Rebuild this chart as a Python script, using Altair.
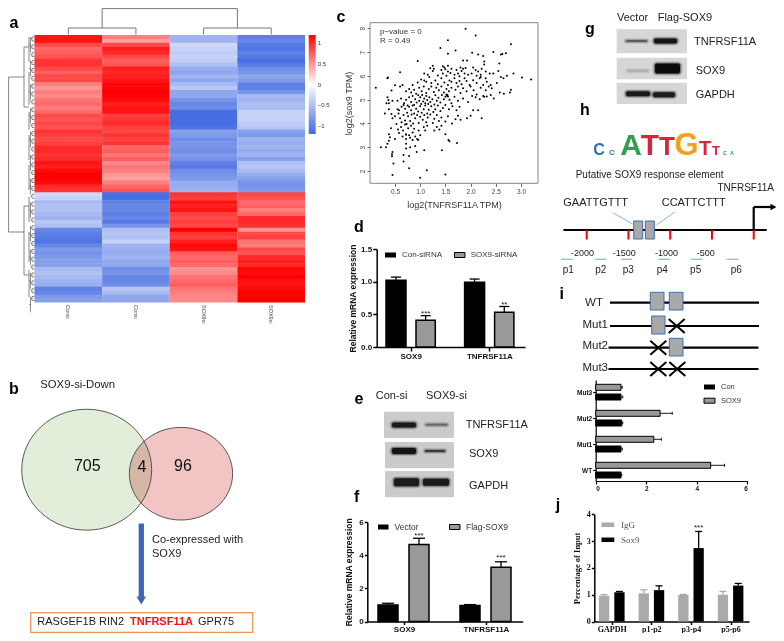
import json
import altair as alt
import pandas as pd

W, H = 768, 625
FONT = "Liberation Sans"
SERIF = "Liberation Serif"
PX = alt.Scale(domain=[0, 784], range=[-8, 776], nice=False, zero=False)
PY = alt.Scale(domain=[0, 641], range=[-8, 633], nice=False, zero=False)

# ---------- a: heatmap ----------
sample_labels = ["Consi", "Consi", "SOX9si", "SOX9si"]
heat_c1 = [1.1,1.1,.85,.7,.75,.8,.95,.95,.85,.75,.85,.85,.6,.5,.6,.55,.65,.7,.6,.7,.85,.8,.85,.8,.95,.9,.85,.9,1.0,1.0,.95,1.0,1.1,1.05,1.15,1.19,1.19,1.15,1.0,.95,
           -.3,-.35,-.55,-.5,-.5,-.55,-.6,-.45,-.5,-.95,-1.0,-1.05,-1.1,-.95,-.8,-.85,-.8,-.75,-.75,-.55,-.5,-.55,-.6,-.65,-1.0,-.95,-.8,-.75]
heat_c2 = [.6,.45,.85,1.05,1.0,.85,.75,.8,1.05,1.0,1.05,1.1,1.17,1.17,1.19,1.17,1.15,1.05,1.1,1.1,.9,.95,1.0,.9,.85,.95,.9,.95,.7,.75,.65,.75,.55,.65,.6,.5,.45,.6,.7,.8,
           -1.15,-1.15,-1.0,-.95,-.95,-1.0,-.95,-1.05,-.85,-.5,-.45,-.5,-.35,-.6,-.65,-.65,-.6,-.7,-.7,-.9,-.85,-.95,-.95,-.9,-.45,-.55,-.7,-.7]
heat_c3 = [-.6,-.6,-.3,-.35,-.4,-.35,-.4,-.5,-.65,-.7,-.6,-.7,-.55,-.45,-.7,-.7,-.85,-.95,-.9,-1.15,-1.15,-1.15,-1.15,-1.1,-.75,-.8,-.9,-.85,-.85,-.9,-.8,-.85,-1.0,-1.05,-.9,-.85,-.8,-.65,-.65,-.6,
           .95,.9,1.1,1.05,1.1,.9,.85,.9,.85,1.19,.95,.9,1.05,1.15,1.1,.75,.7,.75,.7,.5,.55,.65,.7,.75,.65,.6,.55,.55]
heat_c4 = [-1.0,-.95,-1.05,-1.1,-1.0,-1.05,-1.15,-1.05,-.9,-.85,-.7,-.8,-1.0,-1.0,-.85,-.55,-.6,-.5,-.55,-.35,-.35,-.35,-.4,-.45,-.75,-.8,-.6,-.65,-.6,-.65,-.6,-.75,-.5,-.45,-.55,-.65,-.75,-.85,-.85,-.8,
           .85,.8,.7,.75,.6,.7,1.0,1.0,.95,.5,.85,.9,.65,.6,.85,.8,1.0,1.05,1.0,1.15,1.15,1.19,1.1,1.1,1.15,1.19,1.19,1.19]

# ---------- c: scatter (x = log2 TNFRSF11A, y = log2 SOX9) ----------
scatter_pts = [
 (1.9,7.98),(2.1,7.7),(1.55,7.5),(2.8,7.33),(1.4,7.17),(1.7,7.07),(1.55,6.93),(2.03,6.97),(2.15,6.9),(2.25,6.83),(2.45,7.0),(2.6,6.9),(2.63,6.92),(2.7,6.95),(.95,6.62),(1.85,6.65),(1.93,6.65),(2.27,6.6),(2.27,6.48),(2.57,6.52),(.6,6.15),(1.25,6.43),(1.55,6.43),(1.45,6.4),(1.48,6.35),
 (3.2,5.85),(3.02,5.93),(2.85,6.1),(2.72,6.0),(2.6,5.95),(2.65,5.9),(2.55,6.2),(2.45,6.1),(.12,5.5),(.35,5.9),(.36,5.93),(.5,5.6),(.6,5.55),(.65,5.62),(.43,5.38),(.35,5.1),(.37,4.98),(.45,4.95),(.33,4.85),(.38,4.85),(.3,4.42),(.38,4.6),(.43,4.4),(.45,4.22),(.5,4.3),(.55,4.6),(.57,4.42),(.38,3.55),(.42,3.8),(.4,3.42),(.38,3.27),(.35,3.15),(.32,3.0),(.22,3.0),(.45,2.8),(.44,2.7),(.44,2.62),(.47,2.32),(.45,1.83),(.67,2.67),(.67,2.4),(.78,2.63),(.78,2.12),(1.0,1.72),(1.13,2.03),(1.5,1.85),(1.08,2.87),(1.43,2.87),(.72,2.95),(.72,3.15),(.8,3.0),(.9,3.05),(.93,2.8),
 (1.2,6.32),(1.27,6.3),(1.42,6.25),(1.5,6.28),(1.55,6.18),(1.62,6.3),(1.72,6.25),(1.8,6.35),(1.85,6.3),(1.9,6.33),(1.82,6.2),(2.05,6.35),(2.1,6.25),(2.15,6.18),(2.22,6.3),(2.3,6.18),(1.08,6.1),(1.15,6.05),(1.25,6.2),(1.35,6.02),(1.45,6.1),(1.52,6.0),(1.6,6.12),(1.68,6.05),(1.75,6.1),(1.78,5.98),(1.88,6.1),(1.95,6.05),(2.02,6.1),(2.12,6.0),(2.2,5.95),(2.3,5.9),(2.38,6.1),(2.2,6.05),
 (.85,5.62),(.95,5.72),(1.02,5.85),(1.08,5.8),(1.12,5.75),(1.18,5.95),(1.22,5.7),(1.3,5.8),(1.35,5.65),(1.42,5.9),(1.48,5.72),(1.55,5.62),(1.58,5.8),(1.62,5.75),(1.68,5.9),(1.72,5.7),(1.78,5.78),(1.82,5.65),(1.88,5.9),(1.92,5.78),(1.98,5.62),(2.05,5.82),(2.12,5.7),(2.18,5.9),(2.25,5.62),(2.32,5.75),(2.4,5.62),(.78,5.45),(.72,5.35),(.82,5.3),(.88,5.42),(.92,5.25),(.98,5.5),(1.03,5.35),(1.07,5.55),(1.12,5.28),(1.17,5.45),(1.22,5.55),(1.27,5.32),(1.32,5.5),(1.37,5.4),(1.42,5.55),(1.47,5.3),(1.52,5.45),(1.57,5.35),(1.62,5.5),(1.7,5.42),(1.75,5.55),(1.8,5.28),(1.85,5.48),(1.92,5.35),(2.0,5.55),(2.06,5.4),(2.12,5.22),(2.2,5.5),(2.25,5.15),(2.3,5.4),(2.36,5.55),(2.42,5.48),(2.4,5.2),(2.46,5.05),(2.58,5.3),(2.66,5.25),(2.78,5.3),(2.8,5.42),(2.52,5.7),
 (.55,4.95),(.62,5.05),(.68,4.85),(.72,5.0),(.75,4.75),(.78,5.1),(.82,4.9),(.85,5.15),(.88,4.78),(.9,5.02),(.93,4.88),(.96,5.18),(.98,4.95),(1.0,5.1),(1.02,4.82),(1.04,5.2),(1.06,4.92),(1.08,5.05),(1.1,4.85),(1.12,5.15),(1.14,4.98),(1.16,4.82),(1.18,5.1),(1.2,4.9),(1.24,5.02),(1.28,4.8),(1.3,5.18),(1.33,4.95),(1.36,5.08),(1.4,4.88),(1.43,5.2),(1.47,5.02),(1.5,5.12),(1.53,5.17),(1.54,5.2),(1.55,5.13),(1.52,5.22),(1.58,5.0),(1.62,4.85),(1.68,5.12),(1.75,4.95),(1.85,5.05),(1.95,4.9),(2.03,5.15),(2.1,5.1),(2.18,5.02),(2.27,5.12),(2.32,5.13),(.58,4.55),(.63,4.7),(.67,4.78),(.7,4.62),(.74,4.45),(.78,4.7),(.82,4.55),(.85,4.75),(.88,4.42),(.92,4.62),(.96,4.5),(1.0,4.72),(1.03,4.45),(1.07,4.6),(1.1,4.75),(1.14,4.42),(1.17,4.58),(1.22,4.72),(1.26,4.48),(1.3,4.6),(1.35,4.75),(1.4,4.52),(1.45,4.65),(1.5,4.78),(1.57,4.6),(1.64,4.72),(1.72,4.55),(1.78,4.7),(1.93,4.22),(2.0,4.32),(2.05,4.55),(2.15,4.55),(2.22,4.22),
 (.6,4.22),(.63,4.05),(.67,4.35),(.7,4.12),(.73,3.98),(.76,4.3),(.8,4.1),(.83,4.38),(.86,4.0),(.9,4.22),(.94,4.35),(.97,4.02),(1.0,4.28),(1.05,4.15),(1.08,4.35),(1.12,4.05),(1.15,4.25),(1.2,4.38),(1.25,4.02),(1.28,4.2),(1.33,4.35),(1.37,4.1),(1.42,4.25),(1.5,4.08),(1.55,4.3),(1.63,4.0),(1.7,4.18),(1.75,4.32),(1.8,4.15),
 (.53,3.98),(.56,3.75),(.58,3.6),(.62,3.85),(.66,3.7),(.7,3.95),(.72,3.55),(.76,3.8),(.78,3.5),(.82,3.9),(.85,3.62),(.88,3.78),(.9,3.45),(.94,3.35),(.97,3.7),(1.0,3.5),(1.07,3.85),(1.1,3.7),(1.14,3.9),(1.28,3.7),(1.33,3.85),(1.38,3.75),(1.42,3.9),(1.5,3.55),(1.56,3.3),(1.58,3.25),(1.73,3.18),(.72,3.35),(.8,3.4),(.85,3.3),(.96,3.3),(.5,3.35),(.72,3.52),(.65,3.45),
]
scatter_x = [p[0] for p in scatter_pts]
scatter_y = [p[1] for p in scatter_pts]

# ---------- bar panels ----------
d_cats = ["SOX9", "TNFRSF11A"]
d_con, d_con_hi = [1.02, .99], [1.07, 1.04]
d_si, d_si_hi = [.41, .53], [.48, .62]
f_cats = ["SOX9", "TNFRSF11A"]
f_vec, f_vec_hi = [1.0, .97], [1.1, 1.02]
f_flag, f_flag_hi = [4.65, 3.27], [5.02, 3.6]
i_cats = ["WT", "Mut1", "Mut2", "Mut3"]
i_con, i_con_hi = [1.0, 1.0, 1.03, 1.0], [1.03, 1.05, 1.07, 1.07]
i_sox, i_sox_hi = [4.55, 2.3, 2.55, 1.0], [5.1, 2.6, 3.03, 1.05]
j_cats = ["GAPDH", "p1-p2", "p3-p4", "p5-p6"]
j_igg, j_igg_hi = [.96, 1.05, .99, 1.0], [1.0, 1.18, 1.01, 1.12]
j_sox, j_sox_hi = [1.09, 1.17, 2.74, 1.34], [1.12, 1.33, 3.36, 1.42]

layers = []


def T(s, x, y, size=11, weight="normal", align="left", baseline="middle", color="#222", font=FONT, angle=0):
    kw = dict(text=s, fontSize=size, fontWeight=weight, align=align, baseline=baseline, color=color, font=font)
    if angle:
        kw["angle"] = angle
    return alt.Chart(alt.Data(values=[{"a": 1}])).mark_text(**kw).encode(x=alt.value(x - 8), y=alt.value(y - 8))


def S(segs, color="#000", width=1.0, xs=PX, ys=PY):
    df = pd.DataFrame(segs, columns=["x", "y", "x2", "y2"])
    return alt.Chart(df).mark_rule(color=color, strokeWidth=width).encode(
        x=alt.X("x:Q", scale=xs, axis=None), x2="x2:Q", y=alt.Y("y:Q", scale=ys, axis=None), y2="y2:Q")


def R(rows, xs=PX, ys=PY, **mark):
    df = pd.DataFrame(rows, columns=["x", "x2", "y", "y2"])
    return alt.Chart(df).mark_rect(**mark).encode(
        x=alt.X("x:Q", scale=xs, axis=None), x2="x2:Q", y=alt.Y("y:Q", scale=ys, axis=None), y2="y2:Q")


def P(x, y, xs=PX, ys=PY, **mark):
    return alt.Chart(pd.DataFrame({"x": [x], "y": [y]})).mark_point(**mark).encode(
        x=alt.X("x:Q", scale=xs, axis=None), y=alt.Y("y:Q", scale=ys, axis=None))


def bar_panel(cats, series, c0, pitch, cat_span, val_span, val_domain, ticks, fmt, horizontal=False,
              title=None, title_pad=4, font=FONT, lab=8, cap=5, err_w=1.3, stars=(), star_size=8, tick_len=4, dom_w=1.5, title_size=8.5):
    cat_dom = [(cat_span[0] - c0) / pitch + .5, (cat_span[1] - c0) / pitch + .5]
    cs = alt.Scale(domain=cat_dom, range=[cat_span[0] - 8, cat_span[1] - 8], nice=False, zero=False)
    vs = alt.Scale(domain=val_domain, range=[val_span[0] - 8, val_span[1] - 8], nice=False, zero=False)
    ap = abs(pitch)
    rb, re, rc = [], [], []
    for s in series:
        for i, c in enumerate(cats):
            a = i + .5 + s["o0"] / pitch
            a2 = i + .5 + s["o1"] / pitch
            m = (a + a2) / 2
            rb.append(dict(a=a, a2=a2, v0=0, v=s["v"][i], f=s["fill"], st=s["stroke"]))
            re.append(dict(a=m, a2=m, v0=s["v"][i], v=s["hi"][i], c=s["err"]))
            rc.append(dict(a=m - cap / ap, a2=m + cap / ap, v=s["hi"][i], c=s["err"]))
    catax = dict(values=[i + .5 for i in range(len(cats))], labelExpr=json.dumps(cats) + "[floor(datum.value)]",
                 title=None, grid=False, labelFont=font, labelFontWeight="bold", labelFontSize=lab, labelColor="#111",
                 tickColor="#000", tickWidth=dom_w, domainColor="#000", domainWidth=dom_w, tickSize=tick_len,
                 labelPadding=1, labelOverlap=False, labelFlush=False)
    valax = dict(values=ticks, format=fmt, title=title, grid=False, labelFont=font, labelFontWeight="bold", labelFontSize=lab,
                 labelColor="#111", tickColor="#000", tickWidth=dom_w, domainColor="#000", domainWidth=dom_w, tickSize=tick_len,
                 titleFont=font, titleFontSize=title_size, titleFontWeight="bold", titleColor="#111", titlePadding=title_pad,
                 labelPadding=1, labelOverlap=False)
    if horizontal:
        cax = alt.Axis(orient="left", offset=-(val_span[0] - 8), **catax)
        vax = alt.Axis(orient="bottom", offset=(cat_span[0] - 8) - H, **valax)
        pos = dict(x=alt.X("v0:Q", scale=vs, axis=vax), x2="v:Q", y=alt.Y("a:Q", scale=cs, axis=cax), y2="a2:Q")
        poss = dict(x=alt.X("v0:Q", scale=vs, axis=None), x2="v:Q", y=alt.Y("a:Q", scale=cs, axis=None))
        posc = dict(x=alt.X("v:Q", scale=vs, axis=None), y=alt.Y("a:Q", scale=cs, axis=None), y2="a2:Q")
    else:
        cax = alt.Axis(orient="bottom", offset=(val_span[0] - 8) - H, **catax)
        vax = alt.Axis(orient="left", offset=-(cat_span[0] - 8), **valax)
        pos = dict(x=alt.X("a:Q", scale=cs, axis=cax), x2="a2:Q", y=alt.Y("v0:Q", scale=vs, axis=vax), y2="v:Q")
        poss = dict(x=alt.X("a:Q", scale=cs, axis=None), y=alt.Y("v0:Q", scale=vs, axis=None), y2="v:Q")
        posc = dict(x=alt.X("a:Q", scale=cs, axis=None), x2="a2:Q", y=alt.Y("v:Q", scale=vs, axis=None))
    out = []
    ecol = alt.Color("c:N", scale=None)
    out.append(alt.Chart(pd.DataFrame(re)).mark_rule(strokeWidth=err_w).encode(color=ecol, **poss))
    out.append(alt.Chart(pd.DataFrame(rc)).mark_rule(strokeWidth=err_w).encode(color=ecol, **posc))
    out.append(alt.Chart(pd.DataFrame(rb)).mark_rect(strokeWidth=series[0].get("sw", 1.5)).encode(
        fill=alt.Fill("f:N", scale=None), stroke=alt.Stroke("st:N", scale=None), **pos))
    if stars:
        df = pd.DataFrame([dict(a=g + .5 + o / pitch, v=v, s=s) for g, o, v, s in stars])
        out.append(alt.Chart(df).mark_text(fontSize=star_size, font=FONT, color="#111", baseline="middle").encode(
            x=alt.X("a:Q", scale=cs, axis=None), y=alt.Y("v:Q", scale=vs, axis=None), text="s:N"))
    return out


# ---------- a ----------
hx = alt.Scale(domain=[0, 4], range=[34.5 - 8, 305 - 8], nice=False, zero=False)
hy = alt.Scale(domain=[0, 68], range=[35 - 8, 302.5 - 8], nice=False, zero=False)
cols = [heat_c1, heat_c2, heat_c3, heat_c4]
heat_rows = [dict(c=c, c2=c + 1, r=r, r2=min(r + 1.15, 68), v=v) for c, col in enumerate(cols) for r, v in enumerate(col)]
layers.append(alt.Chart(pd.DataFrame(heat_rows)).mark_rect().encode(
    x=alt.X("c:Q", scale=hx, axis=None), x2="c2:Q", y=alt.Y("r:Q", scale=hy, axis=None), y2="r2:Q",
    color=alt.Color("v:Q", scale=alt.Scale(domain=[-1.19, 0, 1.19], range=["#4169e1", "#ffffff", "#ff0000"], interpolate="rgb"),
                    legend=alt.Legend(orient="none", legendX=308.7 - 8, legendY=35 - 8, title=None, gradientLength=99,
                                      gradientThickness=7, values=[-1, -.5, 0, .5, 1], labelFontSize=6, labelColor="#333",
                                      labelFont=FONT, labelOffset=2, tickCount=5, format="g"))))
# dendrograms
top_tree = [(.5, 28, 1.5, 28), (2.5, 28, 3.5, 28), (.5, 28, .5, 34.5), (1.5, 28, 1.5, 34.5), (2.5, 28, 2.5, 34.5), (3.5, 28, 3.5, 34.5),
            (1, 8.6, 3, 8.6), (1, 8.6, 1, 28), (3, 8.6, 3, 28)]
layers.append(S(top_tree, "#777", 1, xs=hx))
left_tree = [(8.6, 77, 8.6, 232), (8.6, 77, 24, 77), (8.6, 232, 24, 232), (24, 47, 24, 107), (24, 206, 24, 275),
             (24, 47, 29, 47), (24, 107, 29, 107), (24, 206, 29, 206), (24, 275, 29, 275),
             (29, 37, 29, 62), (29, 72, 29, 105), (29, 112, 29, 130), (29, 135, 29, 160), (29, 165, 29, 190),
             (29, 197, 29, 222), (29, 232, 29, 262), (29, 270, 29, 297)]
layers.append(S(left_tree, "#777", .9))
leaf = []
step = (302.5 - 35) / 68
for r in range(68):
    y = 35 + step * (r + .5)
    leaf.append((32, y, 34.5, y))
    if r % 2 == 0 and r < 67:
        leaf.append((32, y, 32, y + step))
        leaf.append((30.5, y + step / 2, 32, y + step / 2))
    if r % 6 == 0:
        leaf.append((30.5, y, 30.5, y + step * 4))
        leaf.append((29, y + step * 2, 30.5, y + step * 2))
layers.append(S(leaf, "#444", .6))
lab_df = pd.DataFrame({"c": [.5, 1.5, 2.5, 3.5], "s": sample_labels})
layers.append(alt.Chart(lab_df).mark_text(angle=90, fontSize=5.5, font=FONT, color="#444", align="left", baseline="middle").encode(
    x=alt.X("c:Q", scale=hx, axis=None), y=alt.value(305 - 8), text="s:N"))

# ---------- c ----------
cx = alt.Scale(domain=[.004, 3.337], range=[370 - 8, 538 - 8], nice=False, zero=False)
cy = alt.Scale(domain=[1.483, 8.235], range=[183.3 - 8, 22.7 - 8], nice=False, zero=False)
axc = dict(grid=False, domain=False, tickColor="#666", tickSize=3, labelFont=FONT, labelFontSize=6.5, labelColor="#444",
           titleFont=FONT, titleFontSize=9, titleFontWeight="normal", titleColor="#333", labelOverlap=False)
layers.append(alt.Chart(pd.DataFrame({"x": scatter_x, "y": scatter_y})).mark_point(filled=True, color="#000", size=4, opacity=1).encode(
    x=alt.X("x:Q", scale=cx, axis=alt.Axis(orient="bottom", offset=183.3 - 8 - H, values=[.5, 1, 1.5, 2, 2.5, 3], format=".1f",
                                           title="log2(TNFRSF11A TPM)", titlePadding=6, **axc)),
    y=alt.Y("y:Q", scale=cy, axis=alt.Axis(orient="left", offset=-(370 - 8), values=[2, 3, 4, 5, 6, 7, 8], format="d", labelAngle=-90,
                                           labelAlign="center", labelBaseline="bottom",
                                           title="log2(sox9 TPM)", titlePadding=6, **axc))))
layers.append(R([(.004, 3.337, 1.483, 8.235)], xs=cx, ys=cy, fillOpacity=0, stroke="#888", strokeWidth=1))
layers.append(T("p\u2212value = 0", 380, 31.7, 8, color="#333"))
layers.append(T("R = 0.49", 380, 41, 8, color="#333"))

# ---------- d ----------
layers += bar_panel(d_cats,
    [dict(v=d_con, hi=d_con_hi, fill="#000", stroke="#000", err="#000", o0=-24.7, o1=-4.7),
     dict(v=d_si, hi=d_si_hi, fill="#999", stroke="#000", err="#000", o0=5.3, o1=24.6)],
    410.7, 78.6, (376.7, 525), (347, 249), [0, 1.5], [0, .5, 1, 1.5], ".1f",
    title="Relative mRNA expression", title_pad=3, stars=[(0, 15, .51, "***"), (1, 15, .65, "**")])
layers.append(R([(385, 396, 252.5, 257.5)], fill="#000"))
layers.append(R([(454.5, 465, 252.5, 257.5)], fill="#999", stroke="#000", strokeWidth=1))
layers.append(T("Con-siRNA", 402, 255, 8, color="#333"))
layers.append(T("SOX9-siRNA", 470.7, 255, 8, color="#333"))

# ---------- f ----------
layers += bar_panel(f_cats,
    [dict(v=f_vec, hi=f_vec_hi, fill="#000", stroke="#000", err="#000", o0=-26, o1=-6),
     dict(v=f_flag, hi=f_flag_hi, fill="#999", stroke="#000", err="#000", o0=5, o1=25)],
    404, 82, (367.3, 522.7), (621.5, 522), [0, 6], [0, 2, 4, 6], "d",
    title="Relative mRNA expression", title_pad=5, cap=6, tick_len=3, stars=[(0, 15, 5.15, "***"), (1, 15, 3.8, "***")])
layers.append(R([(378, 388.5, 524.5, 529.5)], fill="#000"))
layers.append(R([(449.5, 460, 524.5, 529.5)], fill="#999", stroke="#000", strokeWidth=1))
layers.append(T("Vector", 394.5, 527, 8.5, color="#333"))
layers.append(T("Flag-SOX9", 466, 527, 8.5, color="#333"))

# ---------- i bars ----------
layers += bar_panel(i_cats,
    [dict(v=i_con, hi=i_con_hi, fill="#000", stroke="#000", err="#000", o0=2, o1=8, sw=1),
     dict(v=i_sox, hi=i_sox_hi, fill="#999", stroke="#000", err="#000", o0=-7.7, o1=-1.7, sw=1)],
    470, -26, (481, 380), (595.7, 747.3), [0, 6], [0, 2, 4, 6], "d", horizontal=True, lab=6.5, cap=1.5, err_w=.9, dom_w=1.2, tick_len=3)
layers.append(R([(704, 715, 384.5, 389.5)], fill="#000"))
layers.append(R([(704, 715, 398.2, 403.2)], fill="#999", stroke="#000", strokeWidth=1))
layers.append(T("Con", 721, 387, 7.5, color="#333"))
layers.append(T("SOX9", 721, 400.7, 7.5, color="#333"))

# ---------- j ----------
layers += bar_panel(j_cats,
    [dict(v=j_igg, hi=j_igg_hi, fill="#aaa", stroke="#aaa", err="#aaa", o0=-12.7, o1=-2.4, sw=0),
     dict(v=j_sox, hi=j_sox_hi, fill="#000", stroke="#000", err="#000", o0=2.6, o1=12.9, sw=0)],
    611.7, 39.6, (594.3, 749), (621.5, 514.3), [0, 4], [0, 1, 2, 3, 4], "d", font=SERIF, lab=8,
    title="Percentage of Input", title_pad=5, cap=3.5, stars=[(2, 7.7, 3.48, "***")], tick_len=3)
layers.append(R([(601.5, 614.3, 522.5, 527)], fill="#aaa"))
layers.append(R([(601.5, 614.3, 537.5, 542)], fill="#000"))
layers.append(T("IgG", 621, 524.7, 9, color="#555", font=SERIF))
layers.append(T("Sox9", 621, 539.7, 9, color="#555", font=SERIF))

# ---------- b: Venn ----------
ell_l = "M -1 0 A 1 0.93 0 1 0 1 0 A 1 0.93 0 1 0 -1 0 Z"
ell_r = "M -1 0 A 1 0.897 0 1 0 1 0 A 1 0.897 0 1 0 -1 0 Z"
layers.append(P(86.7, 469.7, shape=ell_l, size=16900, filled=True, color="#e2eed9", opacity=1))
layers.append(P(181, 473.7, shape=ell_r, size=10670, filled=True, color="#f2c4c4", opacity=1, blend="multiply"))
layers.append(P(86.7, 469.7, shape=ell_l, size=16900, filled=False, color="#333", strokeWidth=.8, opacity=1))
layers.append(P(181, 473.7, shape=ell_r, size=10670, filled=False, color="#333", strokeWidth=.8, opacity=1))
layers.append(T("705", 87.3, 466, 16, align="center", color="#111"))
layers.append(T("96", 183, 466, 16, align="center", color="#111"))
layers.append(T("4", 142, 467, 16, align="center", color="#111"))
layers.append(T("SOX9-si-Down", 40.3, 385, 11.3))
layers.append(T("Co-expressed with", 152, 540, 11))
layers.append(T("SOX9", 152, 554, 11))
layers.append(S([(141.3, 523.5, 141.3, 600)], "#3a67b5", 5.3))
layers.append(P(141.3, 600.5, shape="triangle-down", size=90, filled=True, color="#3a67b5", opacity=1))
layers.append(R([(30.7, 252.7, 612.7, 632.3)], fillOpacity=0, stroke="#f0914e", strokeWidth=1.2))
layers.append(T("RASGEF1B RIN2", 37.3, 622.3, 11))
layers.append(T("TNFRSF11A", 130, 622.3, 11, weight="bold", color="#f0141e"))
layers.append(T("GPR75", 198, 622.3, 11))

# ---------- e, g: blots ----------
blot_bg = [(384, 454, 411.7, 438), (385, 454, 442, 468.3), (385, 454, 471, 497.3)]
blot_bg_g = [(616.7, 687, 29.3, 53.3), (616.7, 687, 57.7, 79.3), (616.7, 687, 82.7, 104)]
blot_bands = [(392, 416, 425, 5, "#111"), (425.7, 447.3, 424.7, 2, "#666"),
              (392, 416, 451, 6, "#0a0a0a"), (425, 445, 451, 2, "#333"),
              (394, 419, 482.3, 8, "#111"), (423, 449, 482.3, 7, "#111"),
              (626, 647, 41, 1.5, "#444"), (654, 677, 41, 5, "#0a0a0a"),
              (627, 648, 70.7, 2, "#aaa"), (655, 680, 68.5, 10, "#000"),
              (626, 650, 93.7, 5, "#111"), (653, 675, 94.7, 5, "#111")]
layers.append(R(blot_bg, fill="#cbcbcb"))
layers.append(R(blot_bg_g, fill="#d6d6d6"))
halo2 = [(a - 2.5, b + 2.5, y - h / 2 - 2, y + h / 2 + 2, c) for a, b, y, h, c in blot_bands]
halo = [(a - 1.2, b + 1.2, y - h / 2 - 1, y + h / 2 + 1, c) for a, b, y, h, c in blot_bands]
core = [(a, b, y - h / 2, y + h / 2, c) for a, b, y, h, c in blot_bands]
for rows, op, rad in ((halo2, .15, 4), (halo, .35, 3), (core, .9, 2)):
    df = pd.DataFrame(rows, columns=["x", "x2", "y", "y2", "c"])
    layers.append(alt.Chart(df).mark_rect(opacity=op, cornerRadius=rad).encode(
        x=alt.X("x:Q", scale=PX, axis=None), x2="x2:Q", y=alt.Y("y:Q", scale=PY, axis=None), y2="y2:Q",
        fill=alt.Fill("c:N", scale=None)))
for s, x, y in [("Con-si", 375.7, 395.7), ("SOX9-si", 426, 395.7), ("TNFRSF11A", 465.7, 424.7), ("SOX9", 469, 454), ("GAPDH", 469, 486),
                ("Vector", 617, 18.3), ("Flag-SOX9", 657.7, 18.3), ("TNFRSF11A", 694, 42), ("SOX9", 695.7, 70.7), ("GAPDH", 695.7, 95)]:
    layers.append(T(s, x, y, 11))

# ---------- h: logo ----------
logo = [("C", 599, 16, "#2f6fb5"), ("C", 612, 8, "#2f6fb5"), ("A", 631, 30, "#2e9e4f"), ("T", 650, 30, "#d8243c"), ("T", 667, 26, "#d8243c"),
        ("G", 686.5, 31, "#f0a21e"), ("T", 705, 20, "#d8243c"), ("T", 716, 13, "#d8243c"), ("C", 725, 5, "#2f6fb5"), ("A", 732, 5, "#2e9e4f")]
for ch, x, sz, col in logo:
    layers.append(T(ch, x, 155, sz, weight="bold", align="center", baseline="alphabetic", color=col))
layers.append(T("Putative SOX9 response element", 575.7, 174.7, 10))

# ---------- h: promoter diagram (bp scale) ----------
bx = alt.Scale(domain=[-2000, 0], range=[586.7 - 8, 753.7 - 8], nice=False, zero=False)
promoter_line = [(-2279, 230, 156, 230)]
promoter_ticks = [-2000, -1500, -1000, -500, 0]
promoter_boxes = [(-1437, -1329), (-1297, -1190)]
primers = [(-2307, -2168), (-1900, -1760), (-1593, -1453), (-1142, -1002), (-750, -611), (-323, -184)]
primer_text = [("p1", -2220), ("p2", -1832), ("p3", -1501), ("p4", -1094), ("p5", -695), ("p6", -208)]
tick_text = [("-2000", -2050), ("-1500", -1550), ("-1000", -1045), ("-500", -575)]
layers.append(S(promoter_line, "#000", 2.2, xs=bx))
layers.append(S([(t, 230, t, 239.5) for t in promoter_ticks], "#f00000", 2, xs=bx))
layers.append(R([(a, b, 221, 239) for a, b in promoter_boxes], xs=bx, fill="#a9a9a9", stroke="#3f6fb0", strokeWidth=1))
layers.append(S([(0, 230, 0, 207), (0, 207, 215, 207)], "#000", 2.2, xs=bx))
layers.append(P(235, 207, xs=bx, shape="triangle-right", size=45, filled=True, color="#000", opacity=1))
layers.append(S([(-1680, 213, -1450, 224), (-945, 212, -1165, 225)], "#6f9fd0", .8, xs=bx))
layers.append(S([(a, 259.3, b, 259.3) for a, b in primers], "#8fb0d8", 1.2, xs=bx))
for rows, yp, sz in ((primer_text, 270, 10), (tick_text, 253.3, 9)):
    df = pd.DataFrame(rows, columns=["s", "x"])
    layers.append(alt.Chart(df).mark_text(fontSize=sz, font=FONT, color="#222", baseline="middle").encode(
        x=alt.X("x:Q", scale=bx, axis=None), y=alt.value(yp - 8), text="s:N"))
layers.append(T("GAATTGTTT", 563.3, 203.3, 11))
layers.append(T("CCATTCTTT", 661.7, 203.3, 11))
layers.append(T("TNFRSF11A", 717.5, 188.3, 10))

# ---------- i: constructs ----------
construct_lines = [(610, 302.7, 759, 302.7), (610, 326, 759, 326), (608.5, 347.7, 758.5, 347.7), (608.5, 369, 758.5, 369)]
construct_boxes = [(650.3, 664, 292.3, 310), (669.3, 683, 292.3, 310), (651.7, 665, 316, 334), (669.3, 683, 338.3, 356)]
construct_x = [(676.7, 326), (658.3, 347.7), (658.3, 369), (677.3, 369)]
layers.append(S(construct_lines, "#000", 2.2))
layers.append(R(construct_boxes, fill="#a9a9a9", stroke="#3f6fb0", strokeWidth=1))
xsegs = []
for x, y in construct_x:
    xsegs += [(x - 8, y - 7, x + 8, y + 7), (x - 8, y + 7, x + 8, y - 7)]
layers.append(S(xsegs, "#000", 2))
for s, x, y in [("WT", 603, 303), ("Mut1", 608, 325), ("Mut2", 608, 346), ("Mut3", 608, 368)]:
    layers.append(T(s, x, y, 11.5, align="right"))

# ---------- panel letters ----------
for s, x, y in [("a", 14, 23), ("b", 14, 389), ("c", 341, 17), ("d", 359, 227), ("e", 359, 399), ("f", 356.7, 497),
                ("g", 590, 29), ("h", 585, 110), ("i", 561.7, 294), ("j", 558, 505)]:
    layers.append(T(s, x, y, 16, weight="bold", align="center", color="#000"))

chart = alt.layer(*layers).resolve_scale(x="independent", y="independent", color="independent", fill="independent", stroke="independent").properties(
    width=W, height=H, padding=0, autosize=alt.AutoSizeParams(type="none")
).configure_view(stroke=None).configure_axis(grid=False)

chart.save("out.html", embed_options={"renderer": "svg", "actions": False})
